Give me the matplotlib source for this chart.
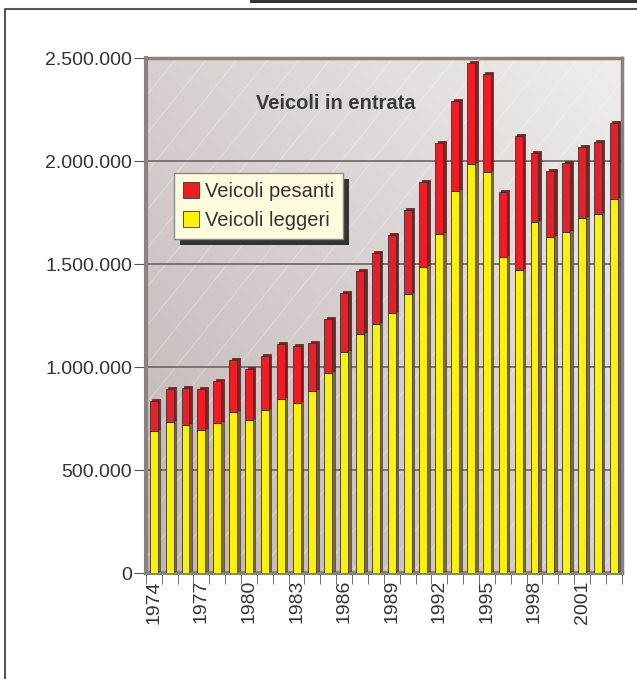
import numpy as np
import matplotlib.pyplot as plt
from matplotlib.patches import Rectangle

plt.rcParams['font.family'] = ['Liberation Sans', 'DejaVu Sans']

years = list(range(1974, 2004))
totale = [835000, 893000, 898000, 893000, 932000, 1034000, 990000, 1053000, 1112000, 1102000,
          1117000, 1233000, 1359000, 1466000, 1553000, 1641000, 1762000, 1898000, 2087000, 2291000,
          2476000, 2422000, 1850000, 2121000, 2039000, 1951000, 1990000, 2068000, 2092000, 2184000]
leggeri = [689000, 733000, 718000, 694000, 728000, 782000, 743000, 791000, 845000, 825000,
           883000, 971000, 1073000, 1160000, 1209000, 1262000, 1354000, 1485000, 1646000, 1854000,
           1985000, 1947000, 1534000, 1471000, 1704000, 1631000, 1655000, 1723000, 1743000, 1816000]
pesanti = [t - l for t, l in zip(totale, leggeri)]
yticks = [0, 500000, 1000000, 1500000, 2000000, 2500000]
ytick_labels = ['0', '500.000', '1.000.000', '1.500.000', '2.000.000', '2.500.000']

fig = plt.figure(figsize=(6.37, 6.79), dpi=100)
ax = fig.add_axes([0.229, 0.156, 0.747, 0.7585])

# outer frame and top bar
fig.patches.append(Rectangle((0.392, 0.995), 0.62, 0.01, transform=fig.transFigure,
                             facecolor='#333333', edgecolor='none'))
fig.lines.append(plt.Line2D([0.008, 0.008, 1.0], [0.0, 0.987, 0.987], transform=fig.transFigure,
                            color='#555555', lw=1.5))

x = np.arange(len(years))
# background gradient
gx, gy = np.meshgrid(np.linspace(0, 1, 200), np.linspace(0, 1, 200))
g = (gx + (1 - gy)) / 2
c1 = np.array([0.75, 0.71, 0.70])
c2 = np.array([0.94, 0.93, 0.92])
img = c1 + (c2 - c1) * g[..., None]
ax.imshow(img, extent=(-0.5, 29.5, 0, 2500000), origin='upper', aspect='auto', zorder=0)
for k in np.arange(-1.0, 1.2, 0.065):
    ax.plot([k, k + 1], [0, 1.15], transform=ax.transAxes, color='white', lw=0.6,
            alpha=0.35, zorder=1, clip_on=True)

for yv in yticks[1:-1]:
    ax.axhline(yv, color='#6e6563', lw=1.2, zorder=2)

w = 0.5
dx = 0.16
dy = 9000
ax.bar(x + dx, leggeri, w, bottom=dy, color='#7d6c3a', edgecolor='#4a4030', lw=0.5, zorder=3)
ax.bar(x + dx, pesanti, w, bottom=np.array(leggeri) + dy, color='#7a2626', edgecolor='#4a2020',
       lw=0.5, zorder=3)
ax.bar(x, leggeri, w, color='#fff200', edgecolor='#333333', lw=0.6, zorder=4, label='Veicoli leggeri')
ax.bar(x, pesanti, w, bottom=leggeri, color='#ee1c25', edgecolor='#333333', lw=0.6, zorder=4,
       label='Veicoli pesanti')

ax.set_xlim(-0.5, 29.5)
ax.set_ylim(0, 2500000)
ax.set_yticks(yticks)
ax.set_yticklabels(ytick_labels)
ax.set_xticks(x[::3])
ax.set_xticklabels([str(y) for y in years[::3]], rotation=90)
ax.set_xticks(np.arange(-0.5, 30, 1), minor=True)
ax.tick_params(axis='x', which='major', length=0, labelsize=14, colors='#333333', pad=5)
ax.tick_params(axis='x', which='minor', length=8, color='#555555')
ax.tick_params(axis='y', length=9, labelsize=14, colors='#333333', pad=1, color='#555555')

for s in ['top', 'right']:
    ax.spines[s].set_color('#8c817e')
    ax.spines[s].set_linewidth(2.5)
ax.spines['left'].set_color('#8c817e')
ax.spines['left'].set_linewidth(3)
ax.spines['bottom'].set_color('#8c817e')
ax.spines['bottom'].set_linewidth(3)

ax.text(0.40, 0.912, 'Veicoli in entrata', transform=ax.transAxes, ha='center', va='center',
        fontsize=14.5, fontweight='bold', color='#3a3a3a', zorder=6)

h, l = ax.get_legend_handles_labels()
leg = ax.legend(h[::-1], l[::-1], loc='upper left', bbox_to_anchor=(0.059, 0.777), borderaxespad=0,
                fontsize=14.5, facecolor='#fffbdc', edgecolor='#8a8a8a', framealpha=1, fancybox=False,
                handlelength=0.8, handleheight=0.8, handletextpad=0.3, labelspacing=0.5,
                borderpad=0.45)
leg.set_zorder(7)
for t in leg.get_texts():
    t.set_color('#333333')

# legend drop shadow
fig.canvas.draw()
bb = leg.get_window_extent().transformed(ax.transAxes.inverted())
ox = 6 / ax.bbox.width
oy = 6 / ax.bbox.height
ax.add_patch(Rectangle((bb.x0 + ox, bb.y0 - oy), bb.width, bb.height, transform=ax.transAxes,
                       facecolor='#333333', edgecolor='none', zorder=6.5, clip_on=False))

fig.savefig('out.png', dpi=100)
